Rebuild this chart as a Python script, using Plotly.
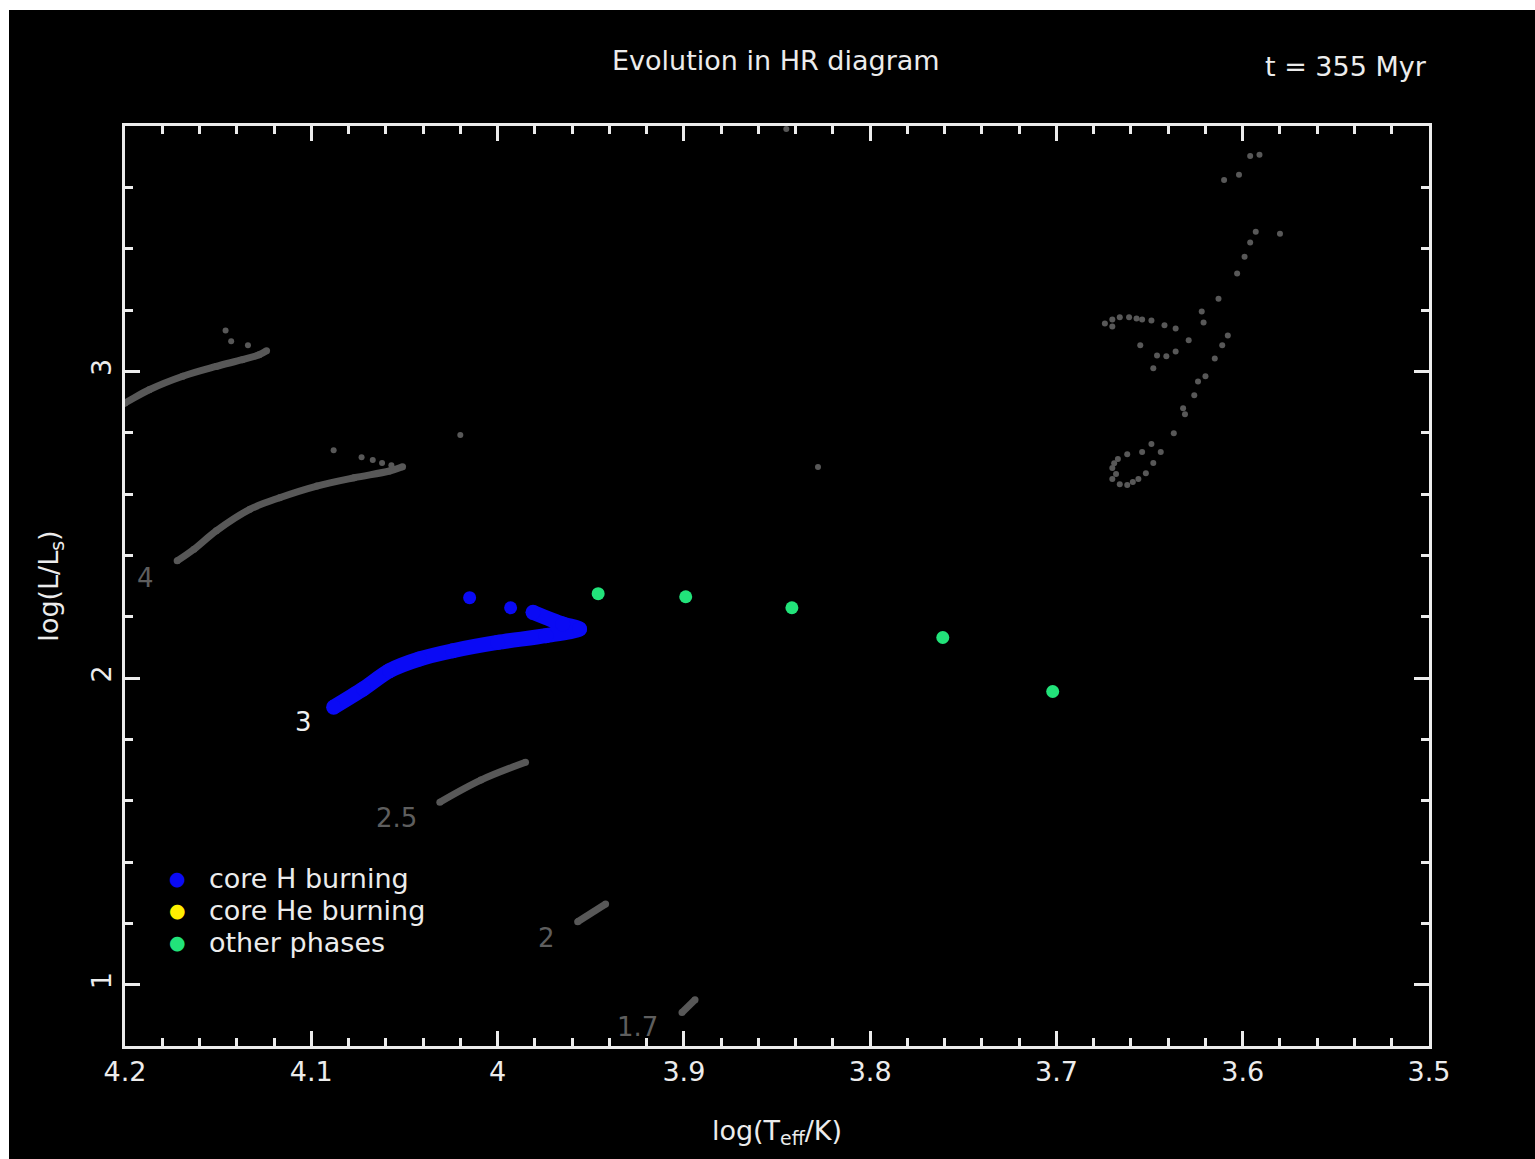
import plotly.graph_objects as go

# ---------------- data ----------------
# 3 Msun model, core H burning (blue)
h_logT = [4.088, 4.072, 4.058, 4.042, 4.024, 4.000, 3.974, 3.956, 3.965, 3.981]
h_logL = [1.905, 1.965, 2.024, 2.062, 2.089, 2.116, 2.138, 2.160, 2.176, 2.214]
h_dots_logT = [4.015, 3.993]
h_dots_logL = [2.262, 2.229]

# other phases (green)
o_logT = [3.946, 3.899, 3.842, 3.761, 3.702]
o_logL = [2.275, 2.265, 2.229, 2.132, 1.956]

# grey tracks of other masses
m5_logT = [4.215, 4.200, 4.187, 4.169, 4.151, 4.137, 4.128, 4.124]
m5_logL = [2.850, 2.897, 2.940, 2.984, 3.016, 3.038, 3.054, 3.067]
m5_dots_logT = [4.134, 4.143, 4.146]
m5_dots_logL = [3.085, 3.098, 3.133]

m4_logT = [4.172, 4.163, 4.151, 4.133, 4.117, 4.097, 4.077, 4.058, 4.051]
m4_logL = [2.382, 2.420, 2.480, 2.550, 2.588, 2.626, 2.653, 2.675, 2.689]
m4_dots_logT = [4.057, 4.062, 4.067, 4.073, 4.088]
m4_dots_logL = [2.694, 2.701, 2.711, 2.720, 2.743]

m25_logT = [4.031, 4.009, 3.985]
m25_logL = [1.595, 1.667, 1.725]

m2_logT = [3.957, 3.942]
m2_logL = [1.205, 1.263]

m17_logT = [3.901, 3.894]
m17_logL = [0.909, 0.951]

stray_logT = [4.020, 3.828, 3.845]
stray_logL = [2.792, 2.688, 3.790]

giant_logT = [3.596, 3.591, 3.610, 3.602, 3.593, 3.580, 3.596, 3.599, 3.603, 3.613, 3.622, 3.621,
              3.629, 3.608, 3.611, 3.615, 3.620, 3.624, 3.626, 3.632, 3.631, 3.637, 3.649, 3.644,
              3.648, 3.652, 3.656, 3.654, 3.662, 3.667, 3.670, 3.670, 3.666, 3.662, 3.659,
              3.674, 3.670, 3.670, 3.666, 3.661, 3.657, 3.654, 3.649, 3.642, 3.636, 3.655,
              3.646, 3.641, 3.636, 3.648, 3.669, 3.668]
giant_logL = [3.702, 3.706, 3.624, 3.641, 3.455, 3.449, 3.420, 3.374, 3.319, 3.237, 3.195, 3.159,
              3.101, 3.117, 3.085, 3.042, 2.984, 2.967, 2.922, 2.880, 2.860, 2.798, 2.763, 2.737,
              2.701, 2.668, 2.649, 2.737, 2.730, 2.714, 2.685, 2.649, 2.632, 2.629, 2.639,
              3.156, 3.146, 3.169, 3.176, 3.176, 3.172, 3.169, 3.166, 3.150, 3.140, 3.085,
              3.052, 3.049, 3.065, 3.010, 2.700, 2.665]

mass_labels = ["4", "3", "2.5", "2", "1.7"]
mass_label_logT = [4.189, 4.104, 4.054, 3.974, 3.925]
mass_label_logL = [2.327, 1.855, 1.543, 1.153, 0.863]
mass_label_colors = ["#5e5e5e", "#f0f0f0", "#5e5e5e", "#5e5e5e", "#5e5e5e"]

legend_labels = ["core H burning", "core He burning", "other phases"]

x_tickvals = [4.2, 4.1, 4.0, 3.9, 3.8, 3.7, 3.6, 3.5]
x_ticktext = ["4.2", "4.1", "4", "3.9", "3.8", "3.7", "3.6", "3.5"]
y_tickvals = [1, 2, 3]
y_ticktext = ["1", "2", "3"]

GREY = "#585858"
BLUE = "#0a0af5"
GREEN = "#22e37a"
YELLOW = "#fff000"
FG = "#ececec"
FONT = "DejaVu Sans"
legend_colors = [BLUE, YELLOW, GREEN]

fig = go.Figure()

# grey tracks
for xs, ys in [(m5_logT, m5_logL), (m4_logT, m4_logL), (m25_logT, m25_logL),
               (m2_logT, m2_logL), (m17_logT, m17_logL)]:
    fig.add_trace(go.Scatter(x=xs, y=ys, mode="lines+markers",
                             line=dict(color=GREY, width=7, shape="spline"),
                             marker=dict(color=GREY, size=7),
                             showlegend=False, hoverinfo="skip"))
for xs, ys in [(m5_dots_logT, m5_dots_logL), (m4_dots_logT, m4_dots_logL),
               (stray_logT, stray_logL), (giant_logT, giant_logL)]:
    fig.add_trace(go.Scatter(x=xs, y=ys, mode="markers",
                             marker=dict(color=GREY, size=6),
                             showlegend=False, hoverinfo="skip"))

# blue core-H burning
fig.add_trace(go.Scatter(x=h_logT, y=h_logL, mode="lines+markers",
                         line=dict(color=BLUE, width=15, shape="spline", smoothing=0.8),
                         marker=dict(color=BLUE, size=15),
                         name=legend_labels[0], showlegend=False))
fig.add_trace(go.Scatter(x=h_dots_logT, y=h_dots_logL, mode="markers",
                         marker=dict(color=BLUE, size=13),
                         name=legend_labels[0], showlegend=False))
fig.add_trace(go.Scatter(x=o_logT, y=o_logL, mode="markers",
                         marker=dict(color=GREEN, size=13),
                         name=legend_labels[2], showlegend=False))

# mass labels
for t, xv, yv, c in zip(mass_labels, mass_label_logT, mass_label_logL, mass_label_colors):
    fig.add_annotation(x=xv, y=yv, text=t, showarrow=False,
                       font=dict(family=FONT, size=26, color=c))

# legend (inside the frame, lower left)
for i, (lab, col) in enumerate(zip(legend_labels, legend_colors)):
    ypos = 0.1826 - i * 0.0348
    fig.add_annotation(xref="paper", yref="paper", x=0.0406, y=ypos, xanchor="center", yanchor="middle",
                       text="●", showarrow=False, font=dict(family=FONT, size=19, color=col))
    fig.add_annotation(xref="paper", yref="paper", x=0.0632, y=ypos, xanchor="left", yanchor="middle",
                       text=lab, showarrow=False, font=dict(family=FONT, size=27, color=FG))

axis_common = dict(showline=True, linecolor=FG, linewidth=3, mirror="allticks",
                   ticks="inside", tickcolor=FG, tickwidth=3, ticklen=15,
                   showgrid=False, zeroline=False,
                   tickfont=dict(family=FONT, size=27, color=FG))

fig.update_xaxes(range=[4.2, 3.5], tickvals=x_tickvals, ticktext=x_ticktext,
                 minor=dict(dtick=0.02, ticks="inside", ticklen=8, tickwidth=3, tickcolor=FG, showgrid=False),
                 title=dict(text="log(T<sub>eff</sub>/K)", font=dict(family=FONT, size=27, color=FG), standoff=35),
                 **axis_common)
fig.update_yaxes(range=[0.8, 3.8], tickvals=y_tickvals, ticktext=y_ticktext, tickangle=-90,
                 minor=dict(dtick=0.2, ticks="inside", ticklen=8, tickwidth=3, tickcolor=FG, showgrid=False),
                 title=dict(text="log(L/L<sub>s</sub>)", font=dict(family=FONT, size=27, color=FG), standoff=20),
                 **axis_common)

fig.add_annotation(xref="paper", yref="paper", x=0.499, y=1.0, yshift=83, text="Evolution in HR diagram",
                   showarrow=False, font=dict(family=FONT, size=27, color=FG))
fig.add_annotation(xref="paper", yref="paper", x=1.0, xanchor="right", y=1.0, yshift=77,
                   text="t = 355 Myr", showarrow=False, font=dict(family=FONT, size=27, color=FG))

fig.update_layout(
    width=1526, height=1149,
    margin=dict(l=116, r=106, t=116, b=113),
    paper_bgcolor="black", plot_bgcolor="black",
    showlegend=False,
)

fig.write_html("out.html", post_script="document.body.style.margin='10px 0 0 9px';")
